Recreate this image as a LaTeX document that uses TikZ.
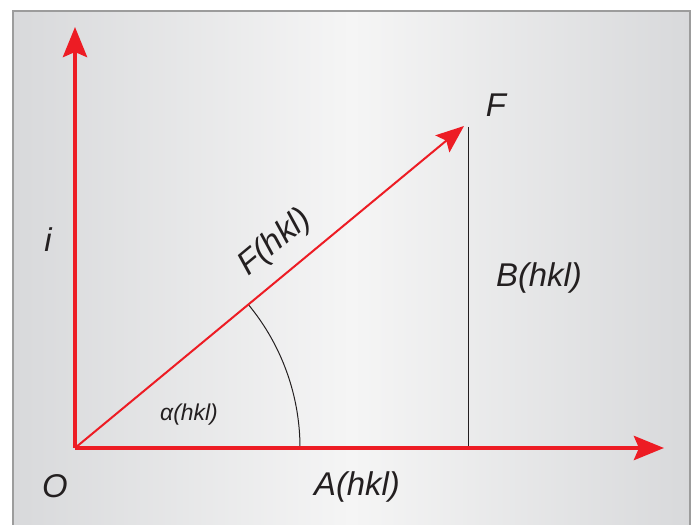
\documentclass[tikz,border=0pt]{standalone}
\usepackage{fontspec}
\setmainfont{Liberation Sans}
\usetikzlibrary{arrows.meta}
\definecolor{axisred}{HTML}{ED1C24}
\definecolor{framegray}{HTML}{9C9C9C}
\definecolor{inkblack}{HTML}{231F20}
\definecolor{panelside}{HTML}{D8D9DB}
\definecolor{panelmid}{HTML}{F5F5F5}
\tikzset{
  axis/.style={draw=axisred, line width=4.5bp, -{Stealth[length=30bp,width=24bp,inset=5bp]}},
  vec/.style={draw=axisred, line width=2bp, -{Stealth[length=28bp,width=22bp,inset=5bp]}},
  guide/.style={draw=inkblack, line width=1bp},
  lbl/.style={font=\fontsize{33}{38}\selectfont\itshape, text=inkblack, inner sep=0pt},
  smalllbl/.style={font=\fontsize{23}{27}\selectfont\itshape, text=inkblack, inner sep=0pt},
}
\begin{document}
\begin{tikzpicture}[x=1bp,y=-1bp]
\useasboundingbox (0,0) rectangle (698,525);
% background panel
\shade[left color=panelside, right color=panelside, middle color=panelmid] (13,11) rectangle (690,526);
\draw[framegray, line width=2bp] (13,526) -- (13,11) -- (690,11) -- (690,526);

\coordinate (O) at (75,448);
\coordinate (itop) at (75,27);
\coordinate (Aend) at (664,448);
\coordinate (Ftip) at (464,126);
\coordinate (Btop) at (468,127);
\coordinate (Bfoot) at (468,448);
\coordinate (arcA) at (300,448);

\draw[guide] (Btop) -- (Bfoot);
\draw[guide] (arcA) arc[start angle=0, end angle=-39.6, radius=225];
\draw[vec] (O) -- (Ftip);
\draw[axis] (O) -- (itop);
\draw[axis] (O) -- (Aend);

\node[lbl] (Flbl) at (496,105) {F};
\node[lbl] (ilbl) at (48,240) {i};
\node[lbl] (Olbl) at (55,486) {O};
\node[lbl] (Albl) at (357,487) {A(hkl)};
\node[lbl] (Blbl) at (539,278) {B(hkl)};
\node[lbl, rotate=39.6] (FHlbl) at (275,243) {F(hkl)};
\node[smalllbl] (alphalbl) at (189,415) {α(hkl)};
\end{tikzpicture}
\end{document}
